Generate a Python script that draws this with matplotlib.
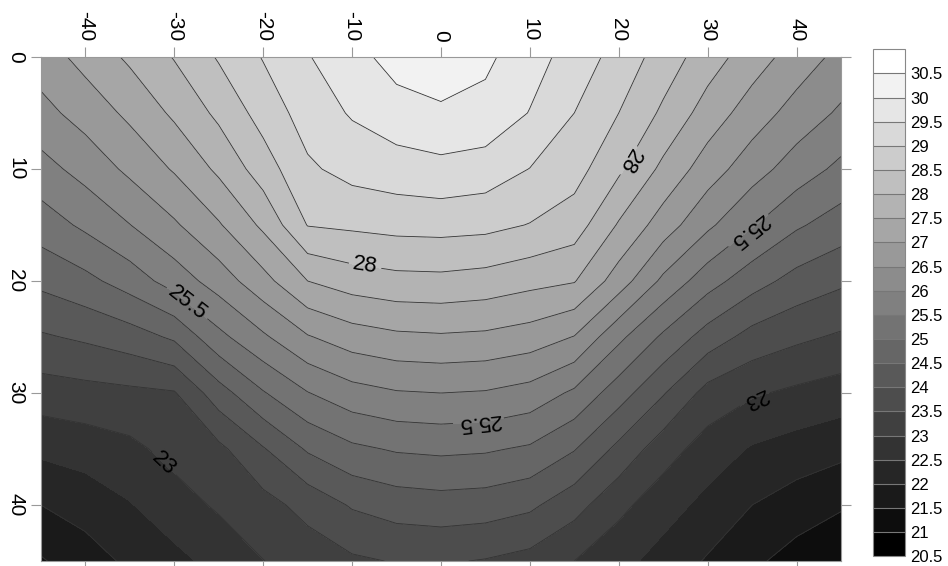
import matplotlib
matplotlib.use("Agg")
import matplotlib.pyplot as plt
import numpy as np

plt.rcParams['font.family'] = ['Liberation Sans', 'DejaVu Sans']
plt.rcParams['axes.unicode_minus'] = False

# grid: x every 5, depth every 5
x_pos = np.arange(-45, 46, 5)
depth = np.arange(0, 46, 5)

t_0 = [26.75, 27.17, 27.59, 28.03, 28.55, 29.03, 29.47, 29.82, 30.20, 30.35, 30.10, 29.71, 29.29, 28.81, 28.28, 27.74, 27.24, 26.78, 26.35]
t_5 = [26.34, 26.70, 27.11, 27.59, 28.11, 28.70, 29.22, 29.55, 29.79, 29.91, 29.85, 29.48, 29.00, 28.50, 27.91, 27.28, 26.76, 26.30, 25.92]
t_10 = [25.82, 26.18, 26.61, 27.05, 27.60, 28.25, 28.92, 29.17, 29.28, 29.36, 29.27, 28.99, 28.70, 28.09, 27.38, 26.75, 26.22, 25.76, 25.38]
t_15 = [25.24, 25.60, 25.99, 26.43, 26.95, 27.60, 28.52, 28.59, 28.66, 28.68, 28.64, 28.48, 28.25, 27.45, 26.76, 26.10, 25.54, 25.07, 24.76]
t_20 = [24.62, 24.86, 25.23, 25.72, 26.23, 26.83, 27.50, 27.74, 27.85, 27.87, 27.80, 27.65, 27.53, 26.76, 25.89, 25.21, 24.71, 24.32, 24.09]
t_25 = [23.94, 24.08, 24.27, 24.58, 25.36, 25.92, 26.46, 26.76, 26.90, 26.94, 26.90, 26.77, 26.48, 25.62, 24.91, 24.28, 23.82, 23.60, 23.43]
t_30 = [23.26, 23.33, 23.39, 23.46, 24.28, 24.96, 25.48, 25.81, 25.96, 26.00, 25.96, 25.81, 25.41, 24.73, 24.04, 23.32, 23.06, 22.90, 22.77]
t_35 = [22.61, 22.73, 22.88, 23.16, 23.38, 23.96, 24.56, 24.90, 25.05, 25.10, 25.06, 24.93, 24.53, 23.87, 23.22, 22.78, 22.45, 22.29, 22.14]
t_40 = [22.00, 22.19, 22.47, 22.79, 23.07, 23.32, 23.67, 24.05, 24.23, 24.29, 24.25, 24.10, 23.69, 23.13, 22.72, 22.35, 22.00, 21.76, 21.56]
t_45 = [21.45, 21.79, 22.09, 22.36, 22.66, 22.99, 23.21, 23.42, 23.53, 23.55, 23.47, 23.33, 23.00, 22.67, 22.30, 21.95, 21.60, 21.30, 21.05]

temp = np.array([t_0, t_5, t_10, t_15, t_20, t_25, t_30, t_35, t_40, t_45])

levels = np.arange(20.5, 31.01, 0.5)
label_levels = [23, 25.5, 28]
# rough spots where the labels sit
label_spots = [(-8.6, 19.0), (21.5, 9.4), (-28.8, 22.2), (34.6, 15.5),
               (4.2, 32.1), (-31.9, 36.9), (35.2, 30.3)]

grays = np.linspace(0, 1, len(levels) - 1)
band_colors = [(g, g, g) for g in grays]
plain_levels = [v for v in levels if v not in label_levels]

fig = plt.figure(figsize=(9.48, 5.66), dpi=100)
ax = fig.add_axes([0.0432, 0.0088, 0.8439, 0.8905])

cf = ax.contourf(x_pos, depth, temp, levels=levels, colors=band_colors)
ax.contour(x_pos, depth, temp, levels=plain_levels, colors='#333333', linewidths=0.6)
cs_lab = ax.contour(x_pos, depth, temp, levels=label_levels, colors='#333333', linewidths=0.6)

ax.set_xlim(-45, 45)
ax.set_ylim(45, 0)

texts = ax.clabel(cs_lab, manual=label_spots, inline=True, inline_spacing=4,
                  fmt=lambda v: f'{v:g}', fontsize=16, colors='black')
# labels on the right half read upside down in the original
for t in texts:
    if t.get_position()[0] > 0:
        t.set_rotation(t.get_rotation() + 180)

ax.set_xticks(np.arange(-40, 41, 10))
ax.set_yticks(np.arange(0, 41, 10))
ax.tick_params(axis='both', direction='out', length=7.2, width=0.8, color='#999999',
               top=True, bottom=True, left=True, right=True,
               labeltop=True, labelbottom=False, labelleft=True, labelright=False,
               labelsize=15, pad=4)
ax.tick_params(axis='x', labelrotation=-90)
ax.tick_params(axis='y', labelrotation=-90)
for lab in ax.get_yticklabels():
    lab.set_verticalalignment('center')
for sp in ax.spines.values():
    sp.set_color('#999999')
    sp.set_linewidth(0.8)

cax = fig.add_axes([0.9212, 0.0171, 0.0334, 0.8958])
cb = fig.colorbar(cf, cax=cax, ticks=levels[:-1], drawedges=True)
cb.set_ticklabels([f'{v:g}' for v in levels[:-1]])
cb.outline.set_edgecolor('#888888')
cb.outline.set_linewidth(0.8)
cb.dividers.set_color('#777777')
cb.dividers.set_linewidth(0.8)
cax.tick_params(length=0, pad=4, labelsize=12)

fig.savefig('out.png', dpi=100)
